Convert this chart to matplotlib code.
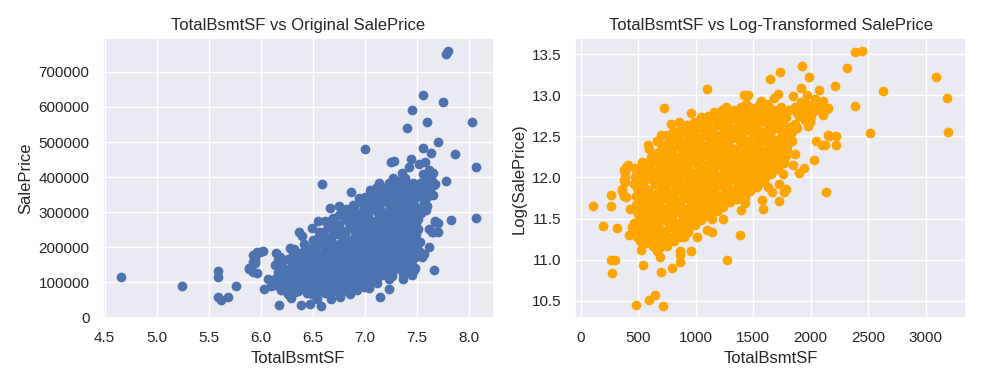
# TotalBsmtSF vs SalePrice, raw price and log price side by side
import numpy as np
import matplotlib
matplotlib.use("Agg")
import matplotlib.pyplot as plt
import seaborn as sns

# outliers and edge points (TotalBsmtSF, log SalePrice)
edge_sf = [105, 190, 267, 267, 267, 296, 276, 318, 361, 375, 384, 375, 390, 403, 418, 432, 446,
           480, 523, 517, 546, 540, 537, 583, 597, 616, 650, 659, 673, 688, 696, 702, 710, 710,
           719, 725, 787, 787, 796, 796, 858, 867, 867, 867, 901, 957, 963, 1015, 1043, 1094,
           1100, 1142, 1142, 1157, 1185, 1236, 1196, 1264, 1270, 1384, 1392, 1426, 1426, 1418,
           1455, 1435, 1571, 1617, 1580, 1583, 1626, 1648, 1668, 1682, 1716, 1725, 1725, 1733,
           1759, 1767, 1782, 1844, 1844, 1839, 1839, 1861, 1901, 1918, 1929, 1938, 1969, 1989,
           1981, 1995, 2032, 2037, 2043, 2072, 2089, 2103, 2108, 2108, 2123, 2137, 2146, 2151,
           2151, 2157, 2211, 2217, 2219, 2319, 2387, 2444, 2387, 2518, 2626, 3089, 3188, 3197,
           361, 375, 390, 412, 381, 381, 1753, 1867, 1981, 2010, 2050, 1920, 1900, 1950, 2000]
edge_log = [11.65, 11.41, 11.79, 11.65, 10.99, 10.99, 10.84, 11.39, 11.84, 12.09, 12.01, 11.97,
            11.76, 12.13, 11.30, 11.61, 11.40, 10.45, 11.12, 11.22, 11.26, 10.93, 12.19, 12.40,
            10.51, 12.20, 10.57, 11.11, 11.13, 11.03, 10.85, 12.52, 12.40, 12.32, 10.44, 12.85,
            11.22, 12.65, 10.90, 12.36, 12.67, 10.97, 11.05, 11.11, 11.28, 11.10, 12.79, 11.28,
            12.74, 11.36, 13.08, 11.50, 11.34, 12.80, 11.59, 11.49, 11.60, 12.86, 10.99, 11.30,
            11.60, 11.69, 11.76, 13.00, 13.01, 12.89, 12.93, 12.89, 11.72, 11.61, 11.88, 13.20,
            11.82, 12.97, 13.02, 11.71, 11.92, 13.29, 12.04, 11.82, 11.86, 12.99, 12.15, 12.55,
            12.44, 12.28, 12.05, 13.09, 13.36, 12.11, 13.00, 13.23, 12.63, 12.67, 12.21, 12.95,
            12.44, 13.06, 12.87, 12.40, 12.93, 12.76, 12.40, 11.82, 12.84, 12.85, 12.52, 12.51,
            13.12, 12.50, 12.40, 13.33, 13.53, 13.54, 12.87, 12.54, 13.05, 13.23, 12.97, 12.56,
            11.86, 11.78, 12.13, 12.15, 12.05, 11.95, 12.84, 12.86, 12.80, 12.88, 12.82, 12.92,
            12.75, 12.70, 12.75]

# the dense core of the cloud, first pass
core_sf = [462, 470, 478, 465, 485, 490, 495, 500, 488, 475,
           520, 528, 535, 530, 545, 552, 540, 558, 525, 548,
           580, 585, 592, 600, 588, 610, 596, 615, 605, 620, 612, 583,
           640, 648, 655, 660, 645, 670, 652, 675, 665, 680, 672, 685, 642, 678,
           700, 708, 715, 722, 730, 705, 718, 735, 712, 728, 740, 738, 702, 745,
           760, 765, 772, 780, 768, 790, 775, 798, 782, 770, 795, 800, 788, 755,
           820, 826, 835, 842, 830, 850, 838, 858, 845, 825, 860, 855, 862, 815,
           880, 888, 895, 905, 885, 912, 898, 918, 890, 910, 920, 925, 902, 876,
           940, 948, 955, 962, 945, 975, 958, 980, 950, 970, 985, 978, 935, 990,
           1000, 1008, 1015, 1025, 1005, 1035, 1018, 1040, 1010, 1030, 1045, 1050, 1022, 998,
           1060, 1068, 1075, 1085, 1065, 1095, 1078, 1100, 1070, 1090, 1105, 1110, 1082, 1058,
           1120, 1128, 1135, 1145, 1125, 1155, 1138, 1160, 1130, 1150, 1165, 1170, 1142, 1118,
           1180, 1190, 1198, 1208, 1185, 1215, 1200, 1222, 1192, 1212, 1228, 1230, 1205,
           1240, 1250, 1258, 1268, 1245, 1275, 1260, 1282, 1252, 1272, 1290, 1265,
           1300, 1310, 1318, 1328, 1305, 1335, 1320, 1342, 1312, 1332, 1348, 1325,
           1360, 1370, 1378, 1388, 1365, 1395, 1380, 1402, 1372, 1392, 1408, 1385,
           1420, 1430, 1438, 1448, 1425, 1455, 1440, 1462, 1432, 1468, 1445,
           1480, 1490, 1498, 1508, 1485, 1515, 1500, 1522, 1492, 1528, 1505,
           1540, 1550, 1558, 1568, 1545, 1575, 1560, 1582, 1552, 1588, 1565,
           1600, 1610, 1618, 1628, 1605, 1635, 1620, 1642, 1648, 1625,
           1660, 1670, 1678, 1688, 1665, 1695, 1680, 1702, 1685,
           1720, 1730, 1738, 1748, 1725, 1755, 1740, 1762,
           1780, 1790, 1798, 1808, 1785, 1815, 1802,
           1860, 1880, 1900, 1940, 1960, 1880]
core_log = [11.45, 11.62, 11.78, 11.92, 12.05, 11.35, 11.55, 11.70, 11.87, 12.00,
            11.30, 11.48, 11.63, 11.80, 11.95, 12.10, 11.40, 11.72, 12.02, 11.55,
            11.25, 11.42, 11.58, 11.70, 11.85, 11.98, 12.12, 12.25, 11.35, 11.52, 11.80, 12.05,
            11.22, 11.38, 11.50, 11.66, 11.80, 11.92, 12.05, 12.18, 12.30, 11.30, 11.45, 11.75, 11.60, 12.00,
            11.20, 11.35, 11.48, 11.62, 11.75, 11.88, 12.00, 12.12, 12.25, 12.38, 11.55, 11.90, 12.10, 11.30,
            11.25, 11.40, 11.55, 11.68, 11.82, 11.95, 12.08, 12.20, 12.33, 12.46, 11.45, 11.78, 12.52, 12.00,
            11.30, 11.45, 11.58, 11.72, 11.85, 11.98, 12.12, 12.25, 12.38, 12.50, 12.58, 11.40, 11.65, 12.05,
            11.35, 11.50, 11.62, 11.76, 11.90, 12.02, 12.15, 12.28, 12.42, 12.55, 12.64, 11.45, 11.85, 12.20,
            11.40, 11.55, 11.68, 11.80, 11.95, 12.05, 12.20, 12.32, 12.45, 12.58, 12.68, 11.60, 12.10, 11.90,
            11.48, 11.60, 11.72, 11.85, 11.98, 12.10, 12.22, 12.35, 12.48, 12.60, 12.70, 11.55, 12.05, 12.30,
            11.52, 11.65, 11.78, 11.90, 12.02, 12.15, 12.28, 12.40, 12.52, 12.64, 12.75, 11.62, 11.98, 12.35,
            11.58, 11.70, 11.82, 11.95, 12.08, 12.20, 12.32, 12.45, 12.58, 12.70, 12.78, 11.68, 12.12, 12.40,
            11.65, 11.78, 11.90, 12.02, 12.15, 12.28, 12.40, 12.52, 12.64, 12.75, 12.82, 11.70, 12.22,
            11.68, 11.80, 11.93, 12.05, 12.18, 12.30, 12.42, 12.55, 12.68, 12.78, 11.75, 12.12,
            11.72, 11.85, 11.98, 12.10, 12.22, 12.35, 12.48, 12.60, 12.72, 12.82, 11.78, 12.15,
            11.78, 11.90, 12.02, 12.15, 12.28, 12.40, 12.52, 12.65, 12.76, 12.86, 11.85, 12.22,
            11.82, 11.95, 12.08, 12.20, 12.32, 12.45, 12.58, 12.70, 12.80, 11.90, 12.12,
            11.88, 12.00, 12.12, 12.25, 12.38, 12.50, 12.62, 12.74, 12.85, 11.98, 12.18,
            11.92, 12.05, 12.18, 12.30, 12.42, 12.55, 12.68, 12.80, 12.88, 12.02, 12.22,
            12.00, 12.12, 12.25, 12.38, 12.50, 12.62, 12.74, 12.86, 12.08, 12.30,
            12.08, 12.20, 12.32, 12.45, 12.58, 12.70, 12.82, 12.15, 12.40,
            12.15, 12.28, 12.40, 12.52, 12.65, 12.78, 12.86, 12.22,
            12.25, 12.38, 12.50, 12.62, 12.74, 12.82, 12.30,
            12.65, 12.78, 12.85, 12.82, 12.90, 12.60]

# second pass over the core, filling the gaps between the first
fill_sf = [492, 515, 480, 508, 498, 470,
           562, 578, 550, 572, 566, 585, 556,
           628, 610, 640, 618, 632, 646, 622, 636, 598,
           690, 705, 676, 712, 684, 698, 668, 706, 680, 694, 662,
           750, 736, 764, 742, 758, 730, 768, 746, 760, 738, 752,
           810, 824, 796, 818, 804, 828, 800, 816, 792, 822, 806,
           870, 856, 884, 862, 878, 852, 888, 866, 880, 858, 874,
           930, 944, 916, 938, 922, 948, 918, 936, 912, 942, 926,
           990, 976, 1004, 982, 998, 972, 1008, 986, 1000, 978, 994,
           1050, 1064, 1036, 1058, 1042, 1068, 1038, 1056, 1032, 1062, 1046,
           1110, 1096, 1124, 1102, 1118, 1092, 1128, 1106, 1120, 1098, 1114,
           1170, 1184, 1156, 1178, 1162, 1188, 1158, 1176, 1152, 1182, 1166,
           1235, 1221, 1249, 1227, 1243, 1217, 1253, 1231, 1245, 1223, 1239,
           1295, 1309, 1281, 1303, 1287, 1313, 1283, 1301, 1277, 1307,
           1355, 1341, 1369, 1347, 1363, 1337, 1373, 1351, 1365, 1343,
           1415, 1429, 1401, 1423, 1407, 1433, 1403, 1421, 1397, 1427,
           1475, 1461, 1489, 1467, 1483, 1457, 1493, 1471, 1485,
           1535, 1549, 1521, 1543, 1527, 1553, 1523, 1541, 1517,
           1595, 1581, 1609, 1587, 1603, 1577, 1613, 1591,
           1655, 1669, 1641, 1663, 1647, 1673, 1643,
           1712, 1698, 1726, 1704, 1720, 1694, 1730,
           1770, 1784, 1756, 1778, 1762, 1788]
fill_log = [11.28, 11.50, 11.66, 11.83, 11.98, 12.12,
            11.20, 11.36, 11.52, 11.68, 11.86, 12.02, 12.18,
            11.17, 11.30, 11.46, 11.62, 11.76, 11.92, 12.08, 12.20, 12.35,
            11.15, 11.28, 11.42, 11.56, 11.70, 11.83, 11.96, 12.06, 12.20, 12.32, 12.45,
            11.17, 11.33, 11.48, 11.62, 11.76, 11.88, 12.03, 12.15, 12.28, 12.40, 12.52,
            11.23, 11.38, 11.52, 11.65, 11.78, 11.92, 12.00, 12.17, 12.30, 12.44, 12.56,
            11.28, 11.42, 11.56, 11.70, 11.83, 11.96, 12.08, 12.22, 12.35, 12.48, 12.60,
            11.33, 11.48, 11.62, 11.74, 11.88, 12.00, 12.13, 12.26, 12.38, 12.50, 12.62,
            11.42, 11.55, 11.66, 11.78, 11.92, 12.04, 12.16, 12.28, 12.40, 12.53, 12.65,
            11.48, 11.60, 11.72, 11.85, 11.96, 12.08, 12.22, 12.34, 12.46, 12.58, 12.70,
            11.53, 11.66, 11.76, 11.88, 12.00, 12.12, 12.25, 12.36, 12.48, 12.62, 12.72,
            11.60, 11.74, 11.86, 11.98, 12.06, 12.18, 12.30, 12.42, 12.54, 12.66, 12.76,
            11.64, 11.76, 11.88, 12.00, 12.10, 12.24, 12.36, 12.48, 12.60, 12.72, 12.82,
            11.70, 11.82, 11.94, 12.04, 12.16, 12.28, 12.40, 12.52, 12.64, 12.76,
            11.74, 11.86, 11.96, 12.08, 12.20, 12.34, 12.46, 12.58, 12.70, 12.80,
            11.78, 11.90, 12.02, 12.14, 12.26, 12.38, 12.50, 12.62, 12.74, 12.84,
            11.84, 11.96, 12.06, 12.18, 12.30, 12.44, 12.56, 12.68, 12.78,
            11.88, 12.00, 12.12, 12.24, 12.36, 12.48, 12.60, 12.72, 12.84,
            11.96, 12.06, 12.18, 12.32, 12.44, 12.56, 12.68, 12.80,
            12.04, 12.14, 12.26, 12.38, 12.52, 12.64, 12.76,
            12.10, 12.22, 12.34, 12.46, 12.60, 12.72, 12.84,
            12.18, 12.32, 12.44, 12.56, 12.68, 12.80]

total_bsmt_sf = np.array(edge_sf + core_sf + fill_sf, dtype=float)
log_sale_price = np.array(edge_log + core_log + fill_log)
sale_price = np.exp(log_sale_price)

sns.set_theme()
plt.rcParams['font.family'] = ['Liberation Sans', 'DejaVu Sans']

fig, axes = plt.subplots(1, 2, figsize=(9.84, 3.84), dpi=100)

# left: log of basement area against raw price
axes[0].scatter(np.log(total_bsmt_sf), sale_price)
axes[0].set_title('TotalBsmtSF vs Original SalePrice')
axes[0].set_xlabel('TotalBsmtSF')
axes[0].set_ylabel('SalePrice')

# right: raw basement area against log price
axes[1].scatter(total_bsmt_sf, log_sale_price, color='orange')
axes[1].set_title('TotalBsmtSF vs Log-Transformed SalePrice')
axes[1].set_xlabel('TotalBsmtSF')
axes[1].set_ylabel('Log(SalePrice)')

plt.tight_layout()
plt.savefig('out.png')
